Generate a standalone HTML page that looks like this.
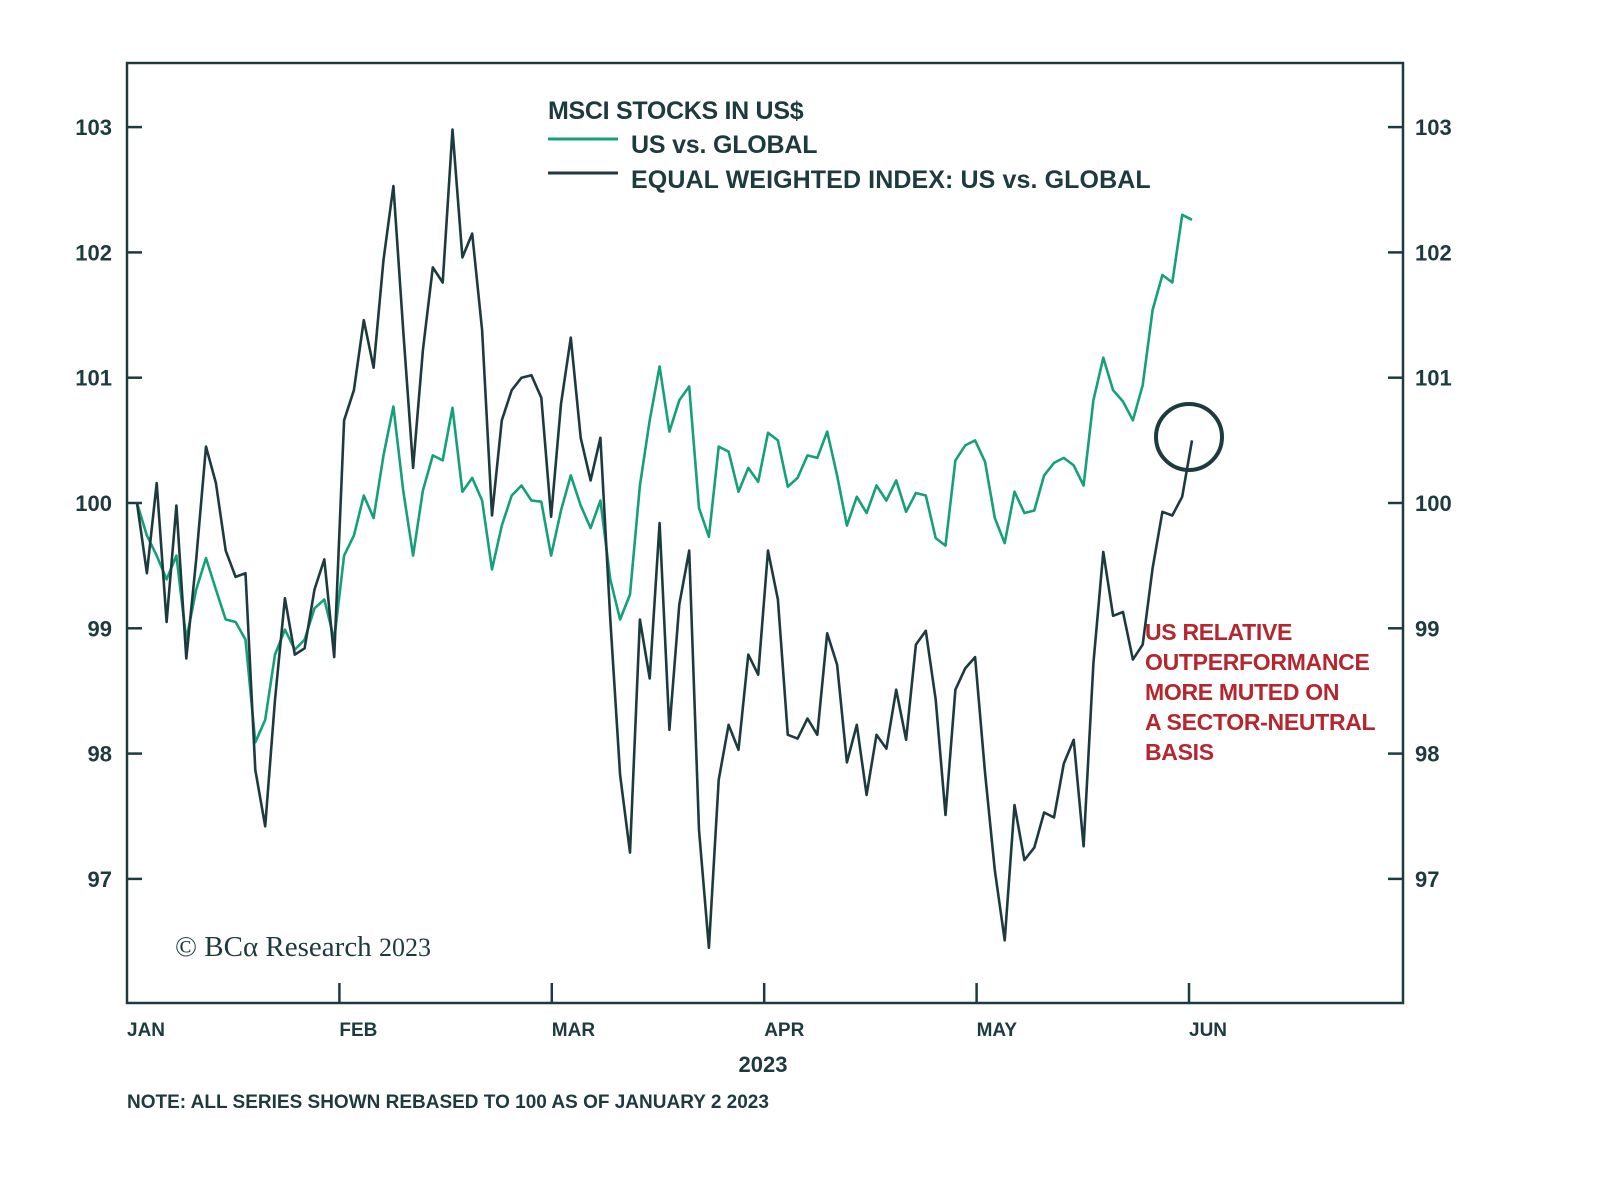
<!DOCTYPE html>
<html><head><meta charset="utf-8"><style>
html,body{margin:0;padding:0;background:#fff;}
svg{display:block;font-family:"Liberation Sans",sans-serif;}
</style></head><body>
<svg id="chart" width="1600" height="1191" viewBox="0 0 1600 1191" xmlns="http://www.w3.org/2000/svg">
<rect x="127" y="63" width="1276" height="940" fill="none" stroke="#1d3b3f" stroke-width="2.5"/>
<g id="axes"></g>
<g id="series"></g>
<text x="548" y="119" font-size="25" font-weight="bold" fill="#1d3b3f" letter-spacing="-0.3">MSCI STOCKS IN US$</text>
<line x1="548" y1="139" x2="618" y2="139" stroke="#15a07a" stroke-width="3"/>
<text x="631" y="153" font-size="25" font-weight="bold" fill="#1d3b3f" letter-spacing="-0.2">US vs. GLOBAL</text>
<line x1="548" y1="173" x2="618" y2="173" stroke="#1d3b3f" stroke-width="3"/>
<text x="631" y="188" font-size="25" font-weight="bold" fill="#1d3b3f" letter-spacing="0.1">EQUAL WEIGHTED INDEX: US vs. GLOBAL</text>
<circle cx="1189" cy="437" r="33" fill="none" stroke="#1d3b3f" stroke-width="4"/>
<g font-size="23" font-weight="bold" fill="#b5272f" letter-spacing="-0.3">
<text x="1145" y="640">US RELATIVE</text>
<text x="1145" y="670">OUTPERFORMANCE</text>
<text x="1145" y="700">MORE MUTED ON</text>
<text x="1145" y="730">A SECTOR-NEUTRAL</text>
<text x="1145" y="760">BASIS</text>
</g>
<text x="175" y="956" font-family="Liberation Serif,serif" font-size="29" fill="#1d3b3f">© BCα Research <tspan font-size="26">2023</tspan></text>
<text x="763" y="1072" text-anchor="middle" font-size="22" font-weight="bold" fill="#1d3b3f">2023</text>
<text x="127" y="1108" font-size="19" font-weight="bold" fill="#1d3b3f" letter-spacing="0">NOTE: ALL SERIES SHOWN REBASED TO 100 AS OF JANUARY 2 2023</text>
</svg>
<script>
const yTicks=[97,98,99,100,101,102,103];
const months=["JAN","FEB","MAR","APR","MAY","JUN"];
const usGlobal=[100.00,99.74,99.58,99.39,99.58,98.91,99.31,99.56,99.31,99.07,99.05,98.91,98.09,98.27,98.79,98.99,98.83,98.91,99.16,99.23,98.91,99.58,99.74,100.06,99.88,100.38,100.77,100.10,99.58,100.10,100.38,100.34,100.76,100.09,100.20,100.02,99.47,99.82,100.06,100.14,100.02,100.01,99.58,99.94,100.22,99.98,99.80,100.02,99.39,99.07,99.27,100.14,100.66,101.09,100.57,100.82,100.93,99.96,99.73,100.45,100.41,100.09,100.28,100.17,100.56,100.50,100.13,100.20,100.38,100.36,100.57,100.22,99.82,100.05,99.92,100.14,100.02,100.18,99.93,100.08,100.06,99.72,99.66,100.34,100.46,100.50,100.33,99.88,99.68,100.09,99.92,99.94,100.22,100.32,100.36,100.30,100.14,100.82,101.16,100.90,100.81,100.66,100.94,101.54,101.82,101.76,102.30,102.26];
const equalWeighted=[100.00,99.44,100.16,99.05,99.98,98.76,99.55,100.45,100.16,99.62,99.41,99.44,97.87,97.42,98.43,99.24,98.79,98.84,99.31,99.55,98.77,100.66,100.90,101.46,101.08,101.94,102.53,101.38,100.28,101.22,101.88,101.76,102.98,101.96,102.15,101.38,99.90,100.66,100.90,101.00,101.02,100.84,99.89,100.79,101.32,100.52,100.18,100.52,99.07,97.83,97.21,99.07,98.60,99.84,98.19,99.19,99.62,97.39,96.45,97.79,98.23,98.03,98.79,98.63,99.62,99.23,98.15,98.12,98.28,98.15,98.96,98.71,97.93,98.23,97.67,98.15,98.04,98.51,98.11,98.87,98.98,98.43,97.51,98.51,98.68,98.77,97.85,97.07,96.51,97.59,97.15,97.25,97.53,97.49,97.92,98.11,97.26,98.72,99.61,99.10,99.13,98.75,98.87,99.48,99.93,99.90,100.05,100.50];
const NS="http://www.w3.org/2000/svg";
function yScale(v){return 503-(v-100)*125.3;}
function xScale(i){return 137+i*9.86;}
function mX(m){return 127+m*212.4;}
const axes=document.getElementById('axes');
const series=document.getElementById('series');
function mk(tag,attrs,parent){const e=document.createElementNS(NS,tag);for(const k in attrs)e.setAttribute(k,attrs[k]);parent.appendChild(e);return e;}
yTicks.forEach(v=>{
  const y=yScale(v);
  let t=mk('line',{x1:127,x2:142,y1:y,y2:y,stroke:'#1d3b3f','stroke-width':2.5},axes);
  
  
  t=mk('line',{x1:1388,x2:1403,y1:y,y2:y,stroke:'#1d3b3f','stroke-width':2.5},axes);
  
  
  let l=mk('text',{x:112,y:y+8,'text-anchor':'end','font-size':22,'font-weight':'bold',fill:'#1d3b3f'},axes);
  l.textContent=v;
  
  
  l=mk('text',{x:1415,y:y+8,'font-size':22,'font-weight':'bold',fill:'#1d3b3f'},axes);
  l.textContent=v;
  
  
});
months.forEach((m,i)=>{
  const x=mX(i);
  if(i>0){const t=mk('line',{x1:x,x2:x,y1:983,y2:1003,stroke:'#1d3b3f','stroke-width':2.5},axes);
  
  }
  const l=mk('text',{x:x,y:1036,'font-size':19,'font-weight':'bold',fill:'#1d3b3f'},axes);
  l.textContent=m;
  
  
});
function line(arr,color,name){
  const d=arr.map((v,i)=>(i?'L':'M')+xScale(i).toFixed(1)+' '+yScale(v).toFixed(1)).join(' ');
  const p=mk('path',{d:d,fill:'none',stroke:color,'stroke-width':2.6,'stroke-linejoin':'round'},series);
  
  
}
line(usGlobal,'#15a07a','line-us-vs-global');
line(equalWeighted,'#1d3b3f','line-equal-weighted');
</script>
</body></html>
